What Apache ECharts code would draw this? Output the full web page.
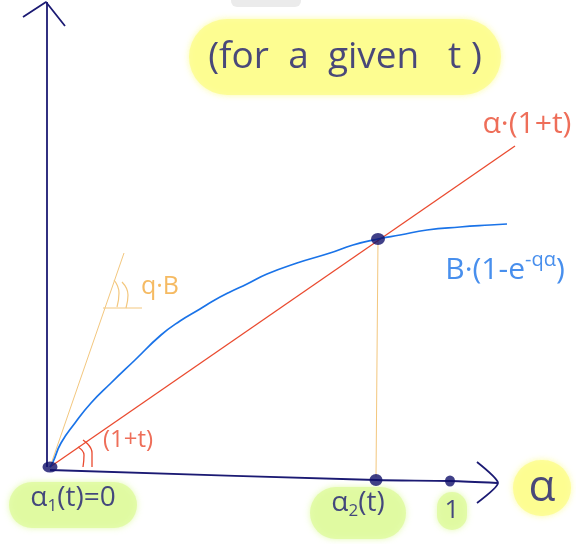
<!DOCTYPE html>
<html>
<head>
<meta charset="utf-8">
<style>
  html, body { margin: 0; padding: 0; background: #ffffff; }
  #chart { width: 576px; height: 544px; }
</style>
<script src="https://cdn.jsdelivr.net/npm/echarts@6/dist/echarts.min.js"></script>
</head>
<body>
<div id="chart"></div>
<script>
// Fixed point iteration sketch: alpha * (1 + t) against B * (1 - e^(-q alpha))

// Saturating curve B(1 - e^{-q alpha}), traced by hand
const blueCurve = [
  [0, 0], [0.0075, 0.02], [0.0275, 0.096], [0.0625, 0.176], [0.1025, 0.256],
  [0.1525, 0.336], [0.2125, 0.428], [0.2775, 0.528], [0.325, 0.584], [0.375, 0.632],
  [0.4075, 0.664], [0.45, 0.7], [0.4925, 0.732], [0.5425, 0.772], [0.6175, 0.816],
  [0.7, 0.856], [0.7575, 0.888], [0.82, 0.912], [0.875, 0.928], [0.9425, 0.948],
  [1.025, 0.96], [1.1, 0.968], [1.1425, 0.972]
];
// Straight line alpha(1 + t)
const redLine = [[0, 0], [1.1625, 1.284]];
// Slope q*B at the origin, with its little reference tick
const slopeLine = [[0, 0], [0.185, 0.856]];
const slopeTick = [[0.1325, 0.636], [0.23, 0.636]];
// Drop line from the crossing to alpha_2(t)
const dropLine = [[0.82, 0.912], [0.815, -0.04]];

// Hand-drawn axes with arrow heads
const yAxisLine = [[-0.0075, 0], [-0.0075, 1.86]];
const yArrow = [[-0.0675, 1.8], [-0.01, 1.86], [0.0375, 1.764]];
const xAxisLine = [[0, -0.012], [0.815, -0.052], [1.0, -0.056], [1.1175, -0.064]];
const xArrow = [[1.0675, 0.02], [1.12, -0.064], [1.0675, -0.144]];

// Angle marks
const redArcs = [
  [[0.07, 0.08], [0.085, 0.048], [0.0825, 0]],
  [[0.0825, 0.108], [0.105, 0.056], [0.105, 0]]
];
const orangeArcs = [
  [[0.16, 0.748], [0.1725, 0.696], [0.1675, 0.64]],
  [[0.18, 0.74], [0.195, 0.688], [0.19, 0.636]]
];

// Marked points: alpha_1 = 0, crossing, alpha_2(t), alpha = 1
const dots = [[0, 0], [0.82, 0.912], [0.815, -0.052], [1.0, -0.056]];
const dotSizes = [[15, 11], [14, 12], [13, 12], [10, 11]];

// Text anchors
const notePos = {
  title: [0.7375, 1.64],
  redName: [1.1925, 1.372],
  blueName: [1.1375, 0.788],
  slopeName: [0.275, 0.72],
  angleName: [0.195, 0.108],
  alpha1: [0.0575, -0.152],
  alpha2: [0.77, -0.184],
  one: [1.005, -0.176],
  axisName: [1.23, -0.084],
  smudge: [0.54, 1.864]
};

const NAVY = '#1b1a73';
const RED = '#ea4a2f';
const BLUE = '#1a73e8';
const ORANGE = '#f3c77e';
const ORANGE_TEXT = '#f2a93b';
const YELLOW = '#fcfc8c';
const GREEN = '#defa9e';
const FONT = '"Open Sans", "Noto Sans", sans-serif';

function stroke(data, color, width, smooth) {
  return {
    type: 'line', data: data, smooth: smooth || false, symbol: 'none',
    lineStyle: { color: color, width: width }, silent: true, z: 2
  };
}

function note(pos, text, style) {
  return {
    type: 'scatter', symbolSize: 0, silent: true, z: 5,
    data: [{ value: pos }],
    label: Object.assign({
      show: true, position: 'inside', formatter: text,
      fontFamily: FONT, color: NAVY
    }, style)
  };
}

function blob(color, w, h) {
  return {
    backgroundColor: color, borderRadius: Math.min(w, h) / 2,
    width: w, height: h, align: 'center', verticalAlign: 'middle',
    shadowColor: color, shadowBlur: 6
  };
}

const series = [
  stroke(yAxisLine, NAVY, 1.8),
  stroke(yArrow, NAVY, 1.8),
  stroke(xAxisLine, NAVY, 1.8, 0.3),
  stroke(xArrow, NAVY, 1.8, 0.2),
  stroke(dropLine, ORANGE, 1),
  stroke(slopeLine, ORANGE, 1),
  stroke(slopeTick, ORANGE, 1),
  stroke(redLine, RED, 1.3),
  stroke(blueCurve, BLUE, 1.7, 0.5)
];
redArcs.forEach(a => series.push(stroke(a, RED, 1.3, true)));
orangeArcs.forEach(a => series.push(stroke(a, ORANGE, 1.2, true)));

series.push({
  type: 'scatter', silent: true, z: 6,
  data: dots.map((d, i) => ({ value: d, symbolSize: dotSizes[i] })),
  symbol: 'circle', itemStyle: { color: '#10106a' }
});

series.push(
  note(notePos.smudge, ' ', {
    backgroundColor: '#e6e6e6', width: 70, height: 12, borderRadius: 6
  }),
  note(notePos.title, '(for  a  given   t )', Object.assign(blob(YELLOW, 312, 76), {
    fontSize: 37, color: NAVY
  })),
  note(notePos.redName, 'α·(1+t)', { fontSize: 30, color: RED }),
  note(notePos.blueName, '{a|B·(1-e}{s|-qα}{a|)}', {
    rich: {
      a: { fontSize: 30, color: BLUE, fontFamily: FONT },
      s: { fontSize: 20, color: BLUE, fontFamily: FONT, padding: [0, 0, 20, 0] }
    }
  }),
  note(notePos.slopeName, 'q·B', { fontSize: 25, color: ORANGE_TEXT }),
  note(notePos.angleName, '(1+t)', { fontSize: 24, color: RED }),
  note(notePos.alpha1, '{a|α}{b|1}{a|(t)=0}', Object.assign(blob(GREEN, 128, 46), {
    rich: {
      a: { fontSize: 28, color: NAVY, fontFamily: FONT },
      b: { fontSize: 17, color: NAVY, fontFamily: FONT, padding: [16, 0, 0, 0] }
    }
  })),
  note(notePos.alpha2, '{a|α}{b|2}{a|(t)}', Object.assign(blob(GREEN, 96, 52), {
    rich: {
      a: { fontSize: 28, color: NAVY, fontFamily: FONT },
      b: { fontSize: 17, color: NAVY, fontFamily: FONT, padding: [16, 0, 0, 0] }
    }
  })),
  note(notePos.one, '1', Object.assign(blob(GREEN, 30, 38), { fontSize: 26 })),
  note(notePos.axisName, 'α', Object.assign(blob(YELLOW, 58, 56), { fontSize: 44 }))
);

const chart = echarts.init(document.getElementById('chart'), null, { renderer: 'canvas' });
chart.setOption({
  animation: false,
  backgroundColor: '#ffffff',
  grid: { left: 0, right: 0, top: 0, bottom: 0 },
  xAxis: { type: 'value', min: -0.125, max: 1.315, show: false },
  yAxis: { type: 'value', min: -0.308, max: 1.868, show: false },
  series: series
});
</script>
</body>
</html>
